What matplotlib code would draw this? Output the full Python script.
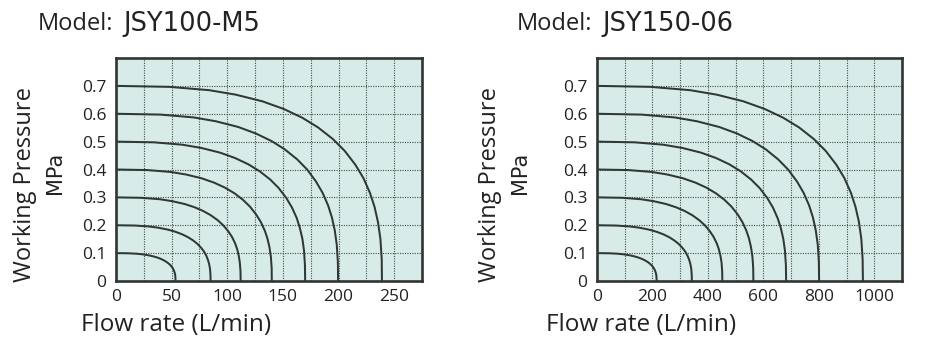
import matplotlib
matplotlib.use("Agg")
import matplotlib.pyplot as plt
from matplotlib.ticker import MultipleLocator

# ---------------- data ----------------
titles_model = ["Model:", "Model:"]
titles_code = ["JSY100-M5", "JSY150-06"]
xmax = [275, 1100]
x_major = [[0, 50, 100, 150, 200, 250], [0, 200, 400, 600, 800, 1000]]
x_minor_step = [25, 100]
y_ticks = [0.0, 0.1, 0.2, 0.3, 0.4, 0.5, 0.6, 0.7]
y_ticklabels = ["0", "0.1", "0.2", "0.3", "0.4", "0.5", "0.6", "0.7"]

# working pressure along each curve (MPa) - same curve family on both charts
p01 = [0.1, 0.0995, 0.0978, 0.0955, 0.0921, 0.0882, 0.0837, 0.0787, 0.0728, 0.0667, 0.0596,
       0.0528, 0.0452, 0.0381, 0.0303, 0.0217, 0.0112, 0]
p02 = [0.2, 0.199, 0.1956, 0.191, 0.1842, 0.1764, 0.1674, 0.1574, 0.1456, 0.1334, 0.1192,
       0.1056, 0.0904, 0.0762, 0.0606, 0.0434, 0.0224, 0]
p03 = [0.3, 0.2985, 0.2934, 0.2865, 0.2763, 0.2646, 0.2511, 0.2361, 0.2184, 0.2001, 0.1788,
       0.1584, 0.1356, 0.1143, 0.0909, 0.0651, 0.0336, 0]
p04 = [0.4, 0.398, 0.3912, 0.382, 0.3684, 0.3528, 0.3348, 0.3148, 0.2912, 0.2668, 0.2384,
       0.2112, 0.1808, 0.1524, 0.1212, 0.0868, 0.0448, 0]
p05 = [0.5, 0.4975, 0.489, 0.4775, 0.4605, 0.441, 0.4185, 0.3935, 0.364, 0.3335, 0.298,
       0.264, 0.226, 0.1905, 0.1515, 0.1085, 0.056, 0]
p06 = [0.6, 0.597, 0.5868, 0.573, 0.5526, 0.5292, 0.5022, 0.4722, 0.4368, 0.4002, 0.3576,
       0.3168, 0.2712, 0.2286, 0.1818, 0.1302, 0.0672, 0]
p07 = [0.7, 0.6965, 0.6846, 0.6685, 0.6447, 0.6174, 0.5859, 0.5509, 0.5096, 0.4669, 0.4172,
       0.3696, 0.3164, 0.2667, 0.2121, 0.1519, 0.0784, 0]
pressures = [p01, p02, p03, p04, p05, p06, p07]

# flow rate along each curve (L/min), JSY100-M5
a01 = [0, 10.7, 18.7, 24.1, 29.4, 33.7, 37.5, 40.7, 43.6, 46.0, 48.2, 49.8, 51.1, 52.0, 52.7, 53.2, 53.4, 53.5]
a02 = [0, 17.0, 29.8, 38.3, 46.8, 53.6, 59.5, 64.6, 69.3, 73.1, 76.5, 79.1, 81.2, 82.6, 83.7, 84.5, 84.9, 85]
a03 = [0, 22.4, 39.2, 50.4, 61.6, 70.6, 78.4, 85.1, 91.3, 96.3, 100.8, 104.2, 107.0, 108.9, 110.3, 111.3, 111.9, 112]
a04 = [0, 28.0, 49.0, 63.0, 77.0, 88.2, 98.0, 106.4, 114.1, 120.4, 126.0, 130.2, 133.7, 136.1, 137.9, 139.2, 139.9, 140]
a05 = [0, 34.0, 59.5, 76.5, 93.5, 107.1, 119.0, 129.2, 138.6, 146.2, 153.0, 158.1, 162.4, 165.2, 167.5, 169.0, 169.8, 170]
a06 = [0, 39.9, 69.9, 89.8, 109.8, 125.7, 139.7, 151.7, 162.7, 171.7, 179.6, 185.6, 190.6, 194.0, 196.6, 198.4, 199.4, 199.6]
a07 = [0, 47.8, 83.7, 107.6, 131.5, 150.6, 167.3, 181.6, 194.8, 205.5, 215.1, 222.3, 228.2, 232.3, 235.4, 237.6, 238.8, 239]
flows_a = [a01, a02, a03, a04, a05, a06, a07]

# flow rate along each curve (L/min), JSY150-06
b01 = [0, 43, 75.3, 96.8, 118.3, 135.5, 150.5, 163.4, 175.2, 184.9, 193.5, 200.0, 205.3, 209.0, 211.8, 213.7, 214.8, 215]
b02 = [0, 68.4, 119.7, 153.9, 188.1, 215.5, 239.4, 259.9, 278.7, 294.1, 307.8, 318.1, 326.6, 332.4, 336.9, 340.0, 341.7, 342]
b03 = [0, 90.4, 158.2, 203.4, 248.6, 284.8, 316.4, 343.5, 368.4, 388.7, 406.8, 420.4, 431.7, 439.3, 445.2, 449.3, 451.5, 452]
b04 = [0, 112.8, 197.4, 253.8, 310.2, 355.3, 394.8, 428.6, 459.7, 485.0, 507.6, 524.5, 538.6, 548.2, 555.5, 560.6, 563.4, 564]
b05 = [0, 136.4, 238.7, 306.9, 375.1, 429.7, 477.4, 518.3, 555.8, 586.5, 613.8, 634.3, 651.3, 662.9, 671.8, 677.9, 681.3, 682]
b06 = [0, 160.2, 280.4, 360.5, 440.6, 504.6, 560.7, 608.8, 652.8, 688.9, 720.9, 744.9, 765.0, 778.6, 789.0, 796.2, 800.2, 801]
b07 = [0, 191.8, 335.7, 431.6, 527.5, 604.2, 671.3, 728.8, 781.6, 824.7, 863.1, 891.9, 915.8, 932.1, 944.6, 953.2, 958.0, 959]
flows_b = [b01, b02, b03, b04, b05, b06, b07]
flows = [flows_a, flows_b]

# ---------------- style ----------------
BG = "#d7ece8"
DARK = "#333333"
TXT = "#222222"
FONT = ["Open Sans", "DejaVu Sans"]
SQFONT = ["DejaVu Sans"]

fig = plt.figure(figsize=(9.3, 3.52), dpi=100)
W, H = 930.0, 352.0

ax_boxes = [(116, 58, 422, 281), (597, 58, 902, 281)]
title_x = [38, 517]
code_x = [123, 602]
ylabel_x = [25, 490]
mpa_x = [55, 520]
xlabel_cx = [176, 641]

for i in range(2):
    l, t, r, b = ax_boxes[i]
    ax = fig.add_axes([l / W, 1 - b / H, (r - l) / W, (b - t) / H])
    ax.set_facecolor(BG)
    ax.set_xlim(0, xmax[i])
    ax.set_ylim(0, 0.8)
    ax.set_xticks(x_major[i])
    ax.set_xticklabels([str(v) for v in x_major[i]])
    ax.xaxis.set_minor_locator(MultipleLocator(x_minor_step[i]))
    ax.set_yticks(y_ticks)
    ax.set_yticklabels(y_ticklabels)
    ax.tick_params(which="both", length=0)
    ax.tick_params(axis="x", pad=6, labelsize=12.5, labelcolor=TXT)
    ax.tick_params(axis="y", pad=7, labelsize=12.5, labelcolor=TXT)
    for lab in ax.get_xticklabels() + ax.get_yticklabels():
        lab.set_family(FONT)
    ax.grid(True, which="both", color="#4a4a4a", linestyle=(0, (1, 1.2)), linewidth=0.8)
    ax.set_axisbelow(True)
    for s in ax.spines.values():
        s.set_color(DARK)
        s.set_linewidth(1.9)
    for fx, py in zip(flows[i], pressures):
        ax.plot(fx, py, color="#2f3836", linewidth=1.45, solid_joinstyle="round", zorder=3)

    fig.text(title_x[i] / W, 1 - 24 / H, titles_model[i], family=FONT, fontsize=17,
             color=TXT, ha="left", va="center")
    fig.text(code_x[i] / W, 1 - 24 / H, titles_code[i], family=SQFONT, fontsize=18.5,
             color=TXT, ha="left", va="center")
    fig.text(ylabel_x[i] / W, 1 - 185 / H, "Working Pressure", family=FONT, fontsize=17,
             color=TXT, rotation=90, ha="center", va="center")
    fig.text(mpa_x[i] / W, 1 - 173 / H, "MPa", family=SQFONT, fontsize=15,
             color=TXT, rotation=90, ha="center", va="center")
    fig.text(xlabel_cx[i] / W, 1 - 325 / H, "Flow rate (L/min)", family=FONT, fontsize=17.5,
             color=TXT, ha="center", va="center")

fig.savefig("out.png", dpi=100, facecolor="white")
